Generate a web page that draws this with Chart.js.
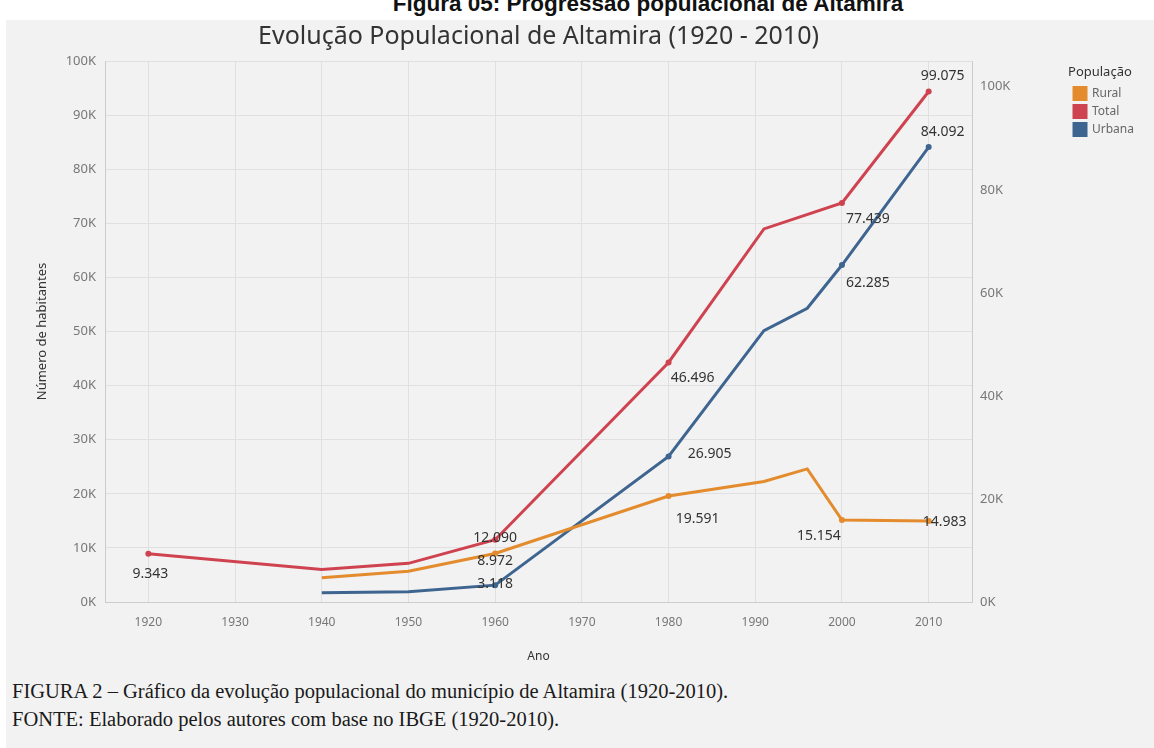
<!DOCTYPE html>
<html lang="pt-BR">
<head>
    <meta charset="UTF-8">
    <title>Evolução Populacional de Altamira (1920 - 2010)</title>
    <script src="https://cdn.jsdelivr.net/npm/chart.js"></script>
    <style>
        body { margin: 0; width: 1154px; height: 748px; overflow: hidden; position: relative; background: #fff; }
        .fig-title { position: absolute; top: -7px; left: 0; width: 1296px; text-align: center; font: bold 22.5px "Liberation Sans", Arial, sans-serif; line-height: 22px; color: #111; }
        .panel { position: absolute; left: 6px; top: 20px; right: 0; bottom: 0; background: #f2f2f2; }
        #popChart { position: absolute; left: 0; top: 20px; }
        .caption { position: absolute; left: 12px; font-family: "Liberation Serif", "Times New Roman", serif; font-size: 20.5px; color: #1a1a1a; white-space: nowrap; }
    </style>
</head>
<body>
    <div class="fig-title">Figura 05: Progressão populacional de Altamira</div>
    <div class="panel"></div>
    <canvas id="popChart" width="1154" height="650"></canvas>
    <div class="caption" style="top:680px">FIGURA 2 – Gráfico da evolução populacional do município de Altamira (1920-2010).</div>
    <div class="caption" style="top:708px">FONTE: Elaborado pelos autores com base no IBGE (1920-2010).</div>

    <script>
        // data (Total on the right axis, Rural/Urbana on the left)
        const totalYears  = [1920, 1940, 1950, 1960, 1980, 1991, 2000, 2010];
        const totalValues = [9343, 6300, 7500, 12090, 46496, 72408, 77439, 99075];
        const partYears   = [1940, 1950, 1960, 1980, 1991, 1996, 2000, 2010];
        const ruralValues = [4500, 5700, 8972, 19591, 22263, 24600, 15154, 14983];
        const urbanValues = [1700, 1900, 3118, 26905, 50145, 54300, 62285, 84092];
        const labeledYears = [1920, 1960, 1980, 2000, 2010];

        const xTicks = [1920, 1930, 1940, 1950, 1960, 1970, 1980, 1990, 2000, 2010];
        const leftTicks = [0, 10000, 20000, 30000, 40000, 50000, 60000, 70000, 80000, 90000, 100000];
        const rightTicks = [0, 20000, 40000, 60000, 80000, 100000];

        const toPoints = (xs, ys) => xs.map((x, i) => ({ x: x, y: ys[i] }));
        const fmtBR = v => String(v).replace(/\B(?=(\d{3})+(?!\d))/g, '.');
        const fmtK = v => (v / 1000) + 'K';
        const dotRadius = ctx => (ctx.raw && labeledYears.includes(ctx.raw.x)) ? 3 : 0;

        // where each value label sits relative to its point (px)
        const labelOffsets = {
            'Total':  { 1920: [2, 20], 1960: [0, -2], 1980: [24, 16], 2000: [26, 16], 2010: [14, -16] },
            'Urbana': { 1960: [0, -1], 1980: [41, -2], 2000: [26, 18], 2010: [14, -15] },
            'Rural':  { 1960: [0, 8], 1980: [29, 23], 2000: [-23, 16], 2010: [16, 1] }
        };

        const valueLabels = {
            id: 'valueLabels',
            afterDatasetsDraw(chart) {
                const c = chart.ctx;
                c.save();
                c.font = '14px "Noto Sans", sans-serif';
                c.fillStyle = '#333';
                c.textAlign = 'center';
                c.textBaseline = 'middle';
                chart.data.datasets.forEach((ds, i) => {
                    const offs = labelOffsets[ds.label] || {};
                    chart.getDatasetMeta(i).data.forEach((pt, j) => {
                        const raw = ds.data[j];
                        const o = offs[raw.x];
                        if (!o) return;
                        c.fillText(fmtBR(raw.y), pt.x + o[0], pt.y + o[1]);
                    });
                });
                c.restore();
            }
        };

        const lineStyle = color => ({
            borderColor: color,
            backgroundColor: color,
            borderWidth: 3,
            pointRadius: dotRadius,
            pointBackgroundColor: color,
            pointBorderWidth: 0,
            tension: 0,
            fill: false
        });

        new Chart(document.getElementById('popChart'), {
            type: 'line',
            data: {
                datasets: [
                    Object.assign({ label: 'Rural', data: toPoints(partYears, ruralValues), yAxisID: 'y' }, lineStyle('#e38b2d')),
                    Object.assign({ label: 'Total', data: toPoints(totalYears, totalValues), yAxisID: 'yRight' }, lineStyle('#cf4350')),
                    Object.assign({ label: 'Urbana', data: toPoints(partYears, urbanValues), yAxisID: 'y' }, lineStyle('#3e6590'))
                ]
            },
            options: {
                responsive: false,
                animation: false,
                devicePixelRatio: 1,
                layout: { padding: { left: 0, right: 10, top: 0, bottom: 6 } },
                plugins: {
                    title: {
                        display: true,
                        fullSize: false,
                        text: 'Evolução Populacional de Altamira (1920 - 2010)',
                        color: '#333',
                        font: { family: 'Noto Sans', size: 25, weight: 'normal' },
                        padding: { top: 2, bottom: 9 }
                    },
                    legend: {
                        position: 'right',
                        align: 'start',
                        title: { display: true, text: 'População', color: '#333', font: { family: 'Noto Sans', size: 13 }, padding: { top: 46, bottom: 0 }, position: 'start' },
                        labels: { boxWidth: 12, boxHeight: 12, padding: 6, color: '#666', font: { family: 'Noto Sans', size: 12 } }
                    },
                    tooltip: { enabled: false }
                },
                scales: {
                    x: {
                        type: 'linear',
                        min: 1915,
                        max: 2015,
                        afterBuildTicks: axis => { axis.ticks = xTicks.map(v => ({ value: v })); },
                        afterFit: axis => { axis.height = 62; },
                        ticks: { callback: v => String(v), color: '#777', font: { family: 'Noto Sans', size: 12 }, padding: 13, maxRotation: 0, autoSkip: false },
                        grid: { color: '#e0e0e0', drawTicks: false },
                        border: { color: '#cccccc' },
                        title: { display: true, text: 'Ano', color: '#333', font: { family: 'Noto Sans', size: 12 }, padding: { top: 20, bottom: 0 } }
                    },
                    y: {
                        position: 'left',
                        min: 0,
                        max: 100000,
                        afterBuildTicks: axis => { axis.ticks = leftTicks.map(v => ({ value: v })); },
                        afterFit: axis => { axis.width = 105; },
                        ticks: { callback: fmtK, color: '#777', font: { family: 'Noto Sans', size: 13 }, padding: 9 },
                        grid: { color: '#e0e0e0', drawTicks: false },
                        border: { color: '#cccccc' },
                        title: { display: true, text: 'Número de habitantes', color: '#333', font: { family: 'Noto Sans', size: 13 }, padding: { top: 34, bottom: 0 } }
                    },
                    yRight: {
                        position: 'right',
                        min: 0,
                        max: 105000,
                        afterBuildTicks: axis => { axis.ticks = rightTicks.map(v => ({ value: v })); },
                        afterFit: axis => { axis.width = 96; },
                        ticks: { callback: fmtK, color: '#777', font: { family: 'Noto Sans', size: 13 }, padding: 8 },
                        grid: { drawOnChartArea: false, drawTicks: false },
                        border: { color: '#cccccc' }
                    }
                }
            },
            plugins: [valueLabels]
        });
    </script>
</body>
</html>
